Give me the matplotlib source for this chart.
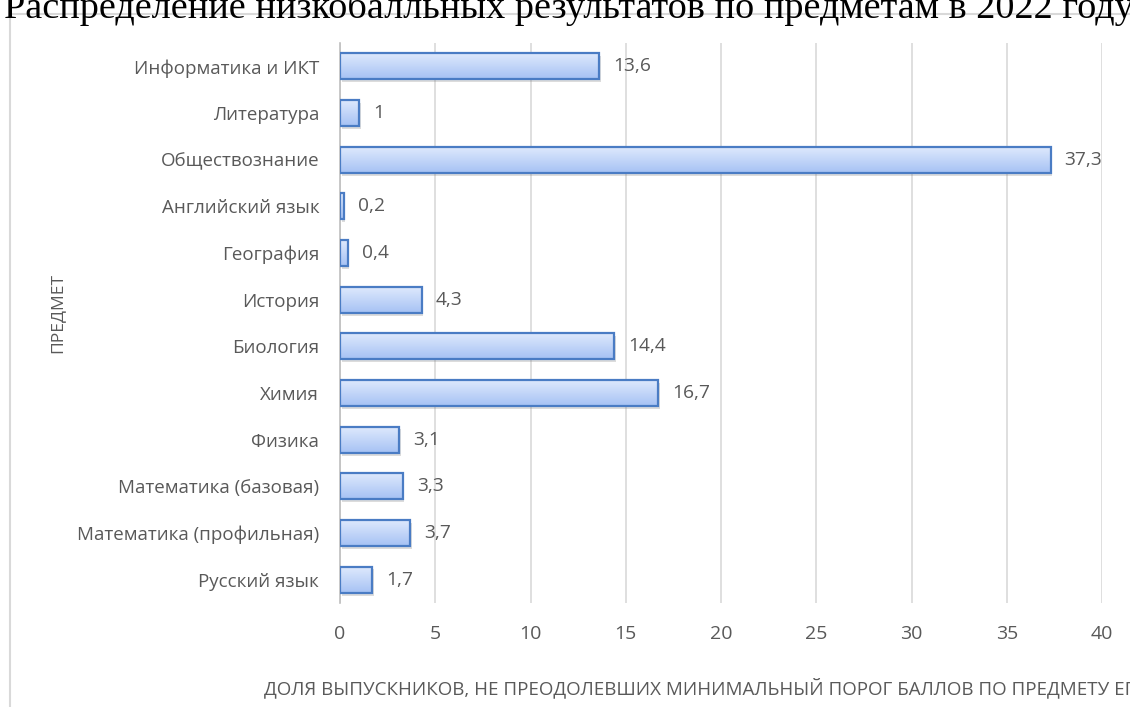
import numpy as np
import matplotlib.pyplot as plt
from matplotlib.colors import LinearSegmentedColormap
from matplotlib.patches import Rectangle

subjects = ['Русский язык', 'Математика (профильная)', 'Математика (базовая)', 'Физика',
            'Химия', 'Биология', 'История', 'География', 'Английский язык',
            'Обществознание', 'Литература', 'Информатика и ИКТ']
shares = [1.7, 3.7, 3.3, 3.1, 16.7, 14.4, 4.3, 0.4, 0.2, 37.3, 1.0, 13.6]
x_ticks = [0, 5, 10, 15, 20, 25, 30, 35, 40]

title = 'Распределение низкобалльных результатов по предметам в 2022 году'
xlabel = 'ДОЛЯ ВЫПУСКНИКОВ, НЕ ПРЕОДОЛЕВШИХ МИНИМАЛЬНЫЙ ПОРОГ БАЛЛОВ ПО ПРЕДМЕТУ ЕГЭ'
ylabel = 'ПРЕДМЕТ'

gray = '#595959'
plt.rcParams['font.family'] = ['Open Sans', 'DejaVu Sans']

fig = plt.figure(figsize=(11.3, 7.07), dpi=100)

# рамка диаграммы (обрезана справа и снизу)
frame = Rectangle((10 / 1130, -0.05), 1.2, 1 - 14 / 707 + 0.05, transform=fig.transFigure,
                  fill=False, edgecolor='#d9d9d9', linewidth=1.5)
fig.patches.append(frame)

fig.text(0.503, 1 - 18 / 707, title, ha='center', va='baseline', fontsize=27.5,
         family='Liberation Serif', color='black')

ax = fig.add_axes([340 / 1130, 1 - 603 / 707, 762 / 1130, 560 / 707])
ypos = np.arange(len(subjects))
h = 0.56

cmap = LinearSegmentedColormap.from_list('grad', ['#a6c2f4', '#e0eafd'])
grad = np.linspace(0, 1, 64).reshape(-1, 1)

for y, v in zip(ypos, shares):
    # тень
    ax.add_patch(Rectangle((0.08, y - h / 2 - 0.06), v, h, facecolor='#8c8c8c',
                           alpha=0.3, edgecolor='none', zorder=2))
    bar = Rectangle((0, y - h / 2), v, h, facecolor='none', edgecolor='#4a7cc4',
                    linewidth=1.6, zorder=4)
    ax.add_patch(bar)
    im = ax.imshow(grad, extent=[0, v, y - h / 2, y + h / 2], cmap=cmap, aspect='auto',
                   origin='lower', zorder=3)
    im.set_clip_path(bar)
    lab = ('%g' % v).replace('.', ',')
    ax.annotate(lab, (v, y), xytext=(10, 0), textcoords='offset points', va='center',
                ha='left', fontsize=13.8, color=gray)

ax.set_xlim(0, 40)
ax.set_ylim(-0.5, len(subjects) - 0.5)
ax.set_xticks(x_ticks)
ax.set_xticklabels([str(t) for t in x_ticks])
ax.set_yticks(ypos)
ax.set_yticklabels(subjects)
ax.tick_params(axis='both', length=0, labelsize=13.5, labelcolor=gray)
ax.tick_params(axis='x', pad=16, labelsize=14)
ax.tick_params(axis='y', pad=15)
ax.grid(axis='x', color='#d9d9d9', linewidth=1.2, zorder=0)
ax.set_axisbelow(True)
for s in ['top', 'right', 'bottom']:
    ax.spines[s].set_visible(False)
ax.spines['left'].set_color('#bfbfbf')
ax.spines['left'].set_linewidth(1.2)

fig.text(705 / 1130, 1 - 688 / 707, xlabel, ha='center', va='center', fontsize=13.5, color=gray)
fig.text(57 / 1130, 1 - 313 / 707, ylabel, ha='center', va='center', rotation=90,
         fontsize=12.5, color=gray)

fig.savefig('out.png', dpi=100)
